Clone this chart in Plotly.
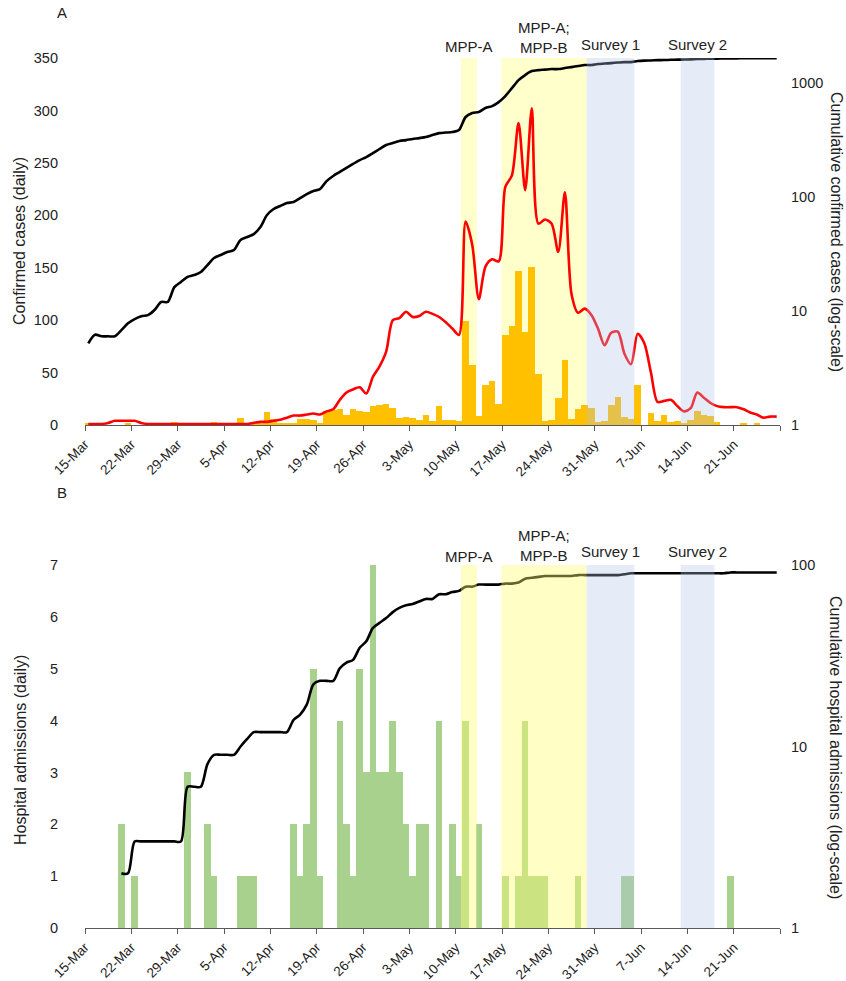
import plotly.graph_objects as go
import numpy as np

# ---------------- data ----------------
tick_labels = ["15-Mar", "22-Mar", "29-Mar", "5-Apr", "12-Apr", "19-Apr", "26-Apr",
               "3-May", "10-May", "17-May", "24-May", "31-May", "7-Jun", "14-Jun",
               "21-Jun", ""]
tick_days = [0, 7, 14, 21, 28, 35, 42, 49, 56, 63, 70, 77, 84, 91, 98, 105]

# daily confirmed cases, day 0 = 15-Mar
cases_daily = [1, 0, 0, 0, 0, 0, 1, 0, 0, 0,
               0, 1, 0, 3, 1, 0, 0, 0, 2, 3,
               1, 0, 1, 7, 2, 3, 3, 12, 6, 2,
               1, 1, 6, 6, 5, 2, 13, 14, 15, 10,
               15, 13, 12, 18, 19, 20, 16, 7, 8, 7,
               5, 10, 4, 18, 5, 5, 4, 99, 57, 9,
               38, 42, 20, 86, 94, 147, 89, 151, 49, 4,
               5, 26, 62, 6, 15, 19, 16, 3, 4, 19,
               27, 8, 6, 38, 0, 11, 4, 10, 3, 4,
               2, 5, 13, 10, 9, 3, 0, 0, 0, 1,
               0, 1, 0, 0, 0, 0]

# red smoothed curve (left axis)
cases_red = [1, 1, 1, 2, 4, 4, 4, 4, 2, 1,
             1, 1, 1, 1, 1, 1, 1, 1, 1, 1,
             1, 1, 1, 1, 1, 2, 3, 3, 4, 5,
             7, 9, 9, 10, 11, 10, 13, 15, 24, 31,
             34, 36, 30, 46, 56, 70, 100, 102, 108, 103,
             104, 108, 106, 103, 98, 92, 86, 194, 172, 120,
             151, 158, 156, 227, 238, 288, 224, 302, 192, 196,
             192, 165, 222, 125, 107, 111, 105, 92, 76, 88,
             89, 68, 58, 87, 78, 50, 22, 23, 24, 18,
             13, 16, 31, 26, 21, 18, 17, 17, 17, 15,
             12, 10, 7, 8, 8]

# cumulative confirmed cases (right log axis)
cases_cum = [5.2, 6.2, 6.0, 6.0, 6.0, 6.8, 7.8, 8.5, 9.0, 9.2,
             10.2, 12.0, 12.0, 16.2, 18.0, 19.9, 20.7, 22.0, 25.3, 29.2,
             31.0, 32.9, 34.3, 42.0, 44.6, 47.3, 54.6, 69.5, 78.5, 83.4,
             88.5, 90.4, 98, 106, 113, 117.5, 138, 153, 166, 180,
             195, 211, 224, 243, 264, 286, 298, 310, 316, 323,
             329, 336, 350, 364, 368, 372, 387, 504, 546, 557,
             604, 628, 681, 769, 903, 1062, 1175, 1274, 1300, 1313,
             1327, 1327, 1355, 1381, 1410, 1439, 1439, 1469, 1483, 1497,
             1514, 1528, 1528, 1560, 1575, 1580, 1590, 1592, 1600, 1605,
             1610, 1615, 1625, 1630, 1635, 1640, 1643, 1646, 1648, 1650,
             1652, 1654, 1655, 1656, 1656]

# daily hospital admissions
adm_daily = [0, 0, 0, 0, 0, 2, 0, 1, 0, 0,
             0, 0, 0, 0, 0, 3, 0, 0, 2, 1,
             0, 0, 0, 1, 1, 1, 0, 0, 0, 0,
             0, 2, 1, 2, 5, 1, 0, 0, 4, 2,
             1, 5, 3, 7, 3, 3, 4, 3, 2, 1,
             2, 2, 0, 4, 0, 2, 1, 4, 0, 2,
             0, 0, 0, 1, 0, 1, 4, 1, 1, 1,
             0, 0, 0, 0, 1, 0, 0, 0, 0, 0,
             0, 1, 1, 0, 0, 0, 0, 0, 0, 0,
             0, 0, 0, 0, 0, 0, 0, 1, 0, 0,
             0, 0, 0, 0, 0, 0]

# cumulative hospital admissions, from day 5 (20-Mar)
adm_cum_first_day = 5
adm_cum = [2, 2, 3, 3, 3, 3, 3, 3, 3, 3,
           6, 6, 6, 8, 9, 9, 9, 9, 10, 11,
           12, 12, 12, 12, 12, 12, 14, 15, 17, 22,
           23, 23, 23, 27, 29, 30, 35, 38, 45, 48,
           51, 55, 58, 60, 61, 63, 65, 65, 69, 69,
           71, 72, 76, 76, 78, 78, 78, 78, 79, 79,
           80, 84, 85, 86, 87, 87, 87, 87, 87, 88,
           88, 88, 88, 88, 88, 88, 89, 90, 90, 90,
           90, 90, 90, 90, 90, 90, 90, 90, 90, 90,
           90, 90, 91, 91, 91, 91, 91, 91, 91, 91]

# shaded periods (day index)
shade_names = ["MPP-A", "MPP-A;<br>MPP-B", "Survey 1", "Survey 2"]
shade_start = [56.8, 62.9, 75.8, 90.0]
shade_end = [59.2, 75.8, 83.0, 95.1]
shade_kind = ["mpp", "mpp", "survey", "survey"]

# ---------------- figure ----------------
W, H = 846, 981
L, R, T, B = 85, 780, 58, 928     # plot-area pixel box
FONT = "Liberation Sans, Arial, sans-serif"
TXT = "#222222"


def px_x(p):
    return (p - L) / (R - L)


def px_y(p):
    return (B - p) / (B - T)


YA = [px_y(425), 1.0]
YB = [0.0, px_y(565)]

xs_daily = np.arange(len(cases_daily)) + 0.5
xs_red = np.arange(len(cases_red)) + 0.5
xs_cum = np.arange(len(cases_cum)) + 0.5
xs_adm = np.arange(len(adm_daily)) + 0.5
xs_adm_cum = np.arange(len(adm_cum)) + adm_cum_first_day + 0.5

fig = go.Figure()

fig.add_trace(go.Bar(x=xs_daily, y=cases_daily, width=1, marker=dict(color="#FFC000", line=dict(width=0)),
                     xaxis="x", yaxis="y", showlegend=False))
fig.add_trace(go.Scatter(x=xs_red, y=cases_red, mode="lines",
                         line=dict(color="#FF0000", width=2.6, shape="spline", smoothing=0.8),
                         xaxis="x", yaxis="y", showlegend=False))
fig.add_trace(go.Scatter(x=xs_cum, y=cases_cum, mode="lines",
                         line=dict(color="#000000", width=2.6, shape="spline", smoothing=0.8),
                         xaxis="x", yaxis="y2", showlegend=False))

fig.add_trace(go.Bar(x=xs_adm, y=adm_daily, width=1, marker=dict(color="#A9D18E", line=dict(width=0)),
                     xaxis="x2", yaxis="y3", showlegend=False))
fig.add_trace(go.Scatter(x=xs_adm_cum, y=adm_cum, mode="lines",
                         line=dict(color="#000000", width=2.6, shape="spline", smoothing=0.8),
                         xaxis="x2", yaxis="y4", showlegend=False))

axis_line = "#595959"
TICKFONT = dict(size=14.5, color=TXT, family=FONT)
XTICKFONT = dict(size=13.5, color=TXT, family=FONT)
xcommon = dict(range=[0, 105], tickmode="array", tickvals=tick_days, ticktext=tick_labels,
               tickangle=-45, showline=True, linecolor=axis_line, linewidth=1.3,
               ticks="outside", ticklen=5, tickcolor=axis_line, tickwidth=1.3,
               showgrid=False, zeroline=False, tickfont=XTICKFONT,
               domain=[0, 1], fixedrange=True, automargin=False)
ycommon = dict(showline=False, ticks="", showgrid=False, zeroline=False,
               tickfont=TICKFONT, fixedrange=True, automargin=False)

fig.update_layout(
    width=W, height=H, margin=dict(l=L, r=W - R, t=T, b=H - B, autoexpand=False),
    paper_bgcolor="white", plot_bgcolor="white",
    bargap=0, barmode="overlay",
    font=dict(family=FONT, size=14, color=TXT),
    xaxis=dict(anchor="y", **xcommon),
    yaxis=dict(domain=YA, range=[0, 350], tickmode="array", tickvals=list(range(0, 351, 50)),
               ticklabelstandoff=26, **ycommon),
    yaxis2=dict(overlaying="y", side="right", anchor="x", type="log", range=[0, 3.22],
                tickmode="array", tickvals=[1, 10, 100, 1000], ticktext=["1", "10", "100", "1000"],
                ticklabelstandoff=10, **ycommon),
    xaxis2=dict(anchor="y3", **xcommon),
    yaxis3=dict(domain=YB, range=[0, 7], tickmode="array", tickvals=list(range(0, 8)),
                ticklabelstandoff=26, **ycommon),
    yaxis4=dict(overlaying="y3", side="right", anchor="x2", type="log", range=[0, 2],
                tickmode="array", tickvals=[1, 10, 100], ticktext=["1", "10", "100"],
                ticklabelstandoff=10, **ycommon),
)

shapes = []
annotations = []
label_y_A = {"MPP-A": 47, "MPP-A;<br>MPP-B": 37, "Survey 1": 44, "Survey 2": 44}
label_y_B = {"MPP-A": 556, "MPP-A;<br>MPP-B": 545, "Survey 1": 551, "Survey 2": 551}
for name, s, e, kind in zip(shade_names, shade_start, shade_end, shade_kind):
    for xr, yr, panel in (("x", "y domain", "A"), ("x2", "y3 domain", "B")):
        if kind == "mpp":
            if panel == "A":
                fill, layer = "#FFFFCC", "below"
            else:
                fill, layer = "rgba(255,255,110,0.40)", "above"
        else:
            fill, layer = "rgba(175,192,230,0.32)", "above"
        shapes.append(dict(type="rect", xref=xr, yref=yr, x0=s, x1=e, y0=0, y1=1,
                           fillcolor=fill, line=dict(width=0), layer=layer))
        ly = label_y_A[name] if panel == "A" else label_y_B[name]
        annotations.append(dict(text=name, xref=xr, yref="paper", x=(s + e) / 2, y=px_y(ly),
                                showarrow=False, xanchor="center", yanchor="middle",
                                font=dict(size=15, color=TXT, family=FONT)))

# panel letters
annotations.append(dict(text="A", xref="paper", yref="paper", x=px_x(62), y=px_y(12),
                        showarrow=False, xanchor="center", yanchor="middle",
                        font=dict(size=15, color=TXT, family=FONT)))
annotations.append(dict(text="B", xref="paper", yref="paper", x=px_x(62), y=px_y(492),
                        showarrow=False, xanchor="center", yanchor="middle",
                        font=dict(size=15, color=TXT, family=FONT)))
# axis titles
titles = [("Confirmed cases (daily)", 20, 241, -90),
          ("Cumulative confirmed cases (log-scale)", 836, 232, 90),
          ("Hospital admissions (daily)", 20, 750, -90),
          ("Cumulative hospital admissions (log-scale)", 836, 747, 90)]
for t, x, y, ang in titles:
    annotations.append(dict(text=t, xref="paper", yref="paper", x=px_x(x), y=px_y(y),
                            showarrow=False, textangle=ang, xanchor="center", yanchor="middle",
                            font=dict(size=16, color=TXT, family=FONT)))

fig.update_layout(shapes=shapes, annotations=annotations)
fig.write_html("out.html")
